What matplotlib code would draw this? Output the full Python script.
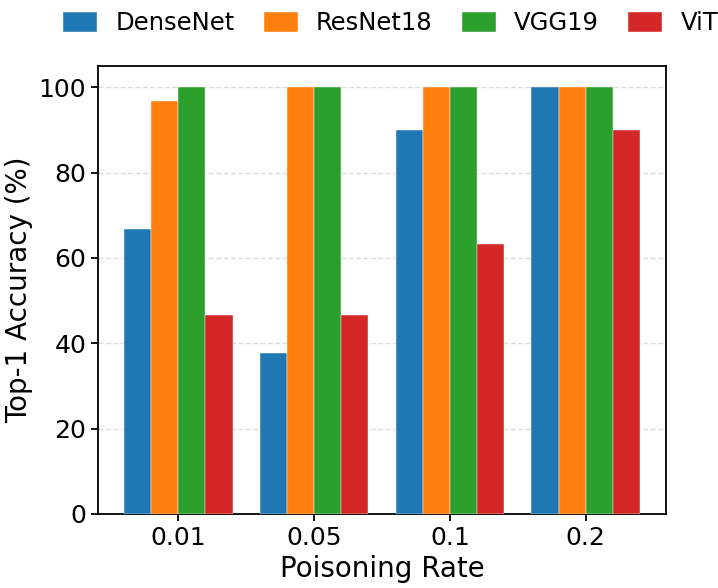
import numpy as np
import matplotlib
matplotlib.use("Agg")
import matplotlib.pyplot as plt

rates = ['0.01', '0.05', '0.1', '0.2']
models = ['DenseNet', 'ResNet18', 'VGG19', 'ViT']
densenet = [66.7, 37.8, 90.0, 100.0]
resnet18 = [96.7, 100.0, 100.0, 100.0]
vgg19 = [100.0, 100.0, 100.0, 100.0]
vit = [46.7, 46.7, 63.3, 90.0]

series = [densenet, resnet18, vgg19, vit]
colors = ['#1f77b4', '#ff7f0e', '#2ca02c', '#d62728']

fig = plt.figure(figsize=(7.18, 5.88), dpi=100)
ax = fig.add_axes([0.1365, 0.126, 0.791, 0.762])

x = np.arange(len(rates))
width = 0.2
for i, (name, vals) in enumerate(zip(models, series)):
    ax.bar(x + (i - 1.5) * width, vals, width, label=name, color=colors[i],
           edgecolor='white', linewidth=0.3, zorder=3)

ax.set_xticks(x)
ax.set_xticklabels(rates)
ax.set_ylim(0, 105)
ax.set_yticks([0, 20, 40, 60, 80, 100])
ax.tick_params(labelsize=18, width=1.3, length=5)
ax.set_xlabel('Poisoning Rate', fontsize=20)
ax.set_ylabel('Top-1 Accuracy (%)', fontsize=20)
ax.grid(axis='y', linestyle='--', color='#dddddd', linewidth=1, zorder=0)
for s in ax.spines.values():
    s.set_linewidth(1.3)

ax.legend(loc='lower center', bbox_to_anchor=(0.515, 1.02), ncol=4, frameon=False,
          fontsize=17.5, handlelength=1.4, handleheight=0.9, columnspacing=1.2,
          handletextpad=0.75)

fig.savefig('out.png', dpi=100)
